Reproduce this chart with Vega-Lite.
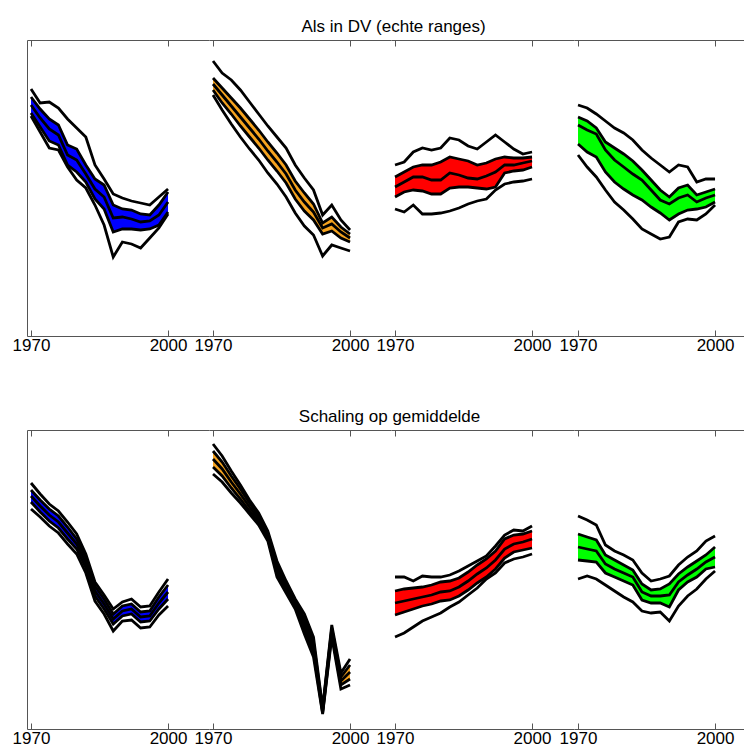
{
  "$schema": "https://vega.github.io/schema/vega-lite/v6.json",
  "background": "white",
  "padding": {"left": 12, "top": 17, "right": 0, "bottom": 0},
  "config": {
    "view": {"stroke": null},
    "font": "Liberation Sans",
    "axis": {"grid": false, "domainColor": "#555", "tickColor": "#555", "domainWidth": 1, "tickWidth": 1, "labelColor": "black", "labelFont": "Liberation Sans", "labelFontSize": 17, "title": null},
    "title": {"font": "Liberation Sans", "fontSize": 17, "fontWeight": "normal", "color": "black", "anchor": "middle", "offset": 4}
  },
  "datasets": {
    "top": [
      {"s":0,"year":1970,"U":247,"A":239,"M":231,"B":223,"L":220},
      {"s":0,"year":1972,"U":233,"A":227,"M":218,"B":209,"L":204},
      {"s":0,"year":1974,"U":234,"A":217,"M":207,"B":195,"L":188},
      {"s":0,"year":1976,"U":228,"A":211,"M":201,"B":191,"L":186},
      {"s":0,"year":1978,"U":217,"A":191,"M":181,"B":171,"L":169},
      {"s":0,"year":1980,"U":208,"A":187,"M":176,"B":164,"L":156},
      {"s":0,"year":1982,"U":199,"A":171,"M":162,"B":154,"L":148},
      {"s":0,"year":1984,"U":171,"A":157,"M":147,"B":137,"L":131},
      {"s":0,"year":1986,"U":157,"A":151,"M":139,"B":127,"L":111},
      {"s":0,"year":1988,"U":142,"A":131,"M":118,"B":104,"L":79},
      {"s":0,"year":1990,"U":138,"A":127,"M":119,"B":107,"L":94},
      {"s":0,"year":1992,"U":135,"A":126,"M":117,"B":107,"L":92},
      {"s":0,"year":1994,"U":133,"A":122,"M":114,"B":106,"L":88},
      {"s":0,"year":1996,"U":131,"A":121,"M":115,"B":107,"L":98},
      {"s":0,"year":1998,"U":139,"A":131,"M":121,"B":111,"L":108},
      {"s":0,"year":2000,"U":147,"A":144,"M":134,"B":124,"L":122},
      {"s":1,"year":1970,"U":275,"A":258,"M":252,"B":246,"L":241},
      {"s":1,"year":1972,"U":263,"A":248,"M":241,"B":233,"L":226},
      {"s":1,"year":1974,"U":256,"A":238,"M":230,"B":222,"L":212},
      {"s":1,"year":1976,"U":246,"A":228,"M":219,"B":210,"L":199},
      {"s":1,"year":1978,"U":234,"A":217,"M":208,"B":199,"L":187},
      {"s":1,"year":1980,"U":222,"A":206,"M":197,"B":188,"L":176},
      {"s":1,"year":1982,"U":210,"A":194,"M":185,"B":176,"L":163},
      {"s":1,"year":1984,"U":199,"A":183,"M":174,"B":165,"L":152},
      {"s":1,"year":1986,"U":188,"A":171,"M":162,"B":153,"L":139},
      {"s":1,"year":1988,"U":171,"A":155,"M":146,"B":137,"L":123},
      {"s":1,"year":1990,"U":158,"A":143,"M":134,"B":125,"L":110},
      {"s":1,"year":1992,"U":146,"A":132,"M":124,"B":116,"L":101},
      {"s":1,"year":1994,"U":121,"A":113,"M":108,"B":102,"L":80},
      {"s":1,"year":1996,"U":131,"A":119,"M":112,"B":105,"L":91},
      {"s":1,"year":1998,"U":116,"A":109,"M":104,"B":98,"L":88},
      {"s":1,"year":2000,"U":106,"A":102,"M":98,"B":94,"L":85},
      {"s":2,"year":1970,"U":171,"A":159,"M":149,"B":139,"L":127},
      {"s":2,"year":1972,"U":174,"A":164,"M":154,"B":144,"L":124},
      {"s":2,"year":1974,"U":184,"A":169,"M":159,"B":146,"L":131},
      {"s":2,"year":1976,"U":188,"A":171,"M":159,"B":145,"L":122},
      {"s":2,"year":1978,"U":186,"A":171,"M":156,"B":142,"L":122},
      {"s":2,"year":1980,"U":188,"A":174,"M":156,"B":142,"L":123},
      {"s":2,"year":1982,"U":198,"A":179,"M":163,"B":148,"L":125},
      {"s":2,"year":1984,"U":196,"A":177,"M":161,"B":149,"L":128},
      {"s":2,"year":1986,"U":190,"A":175,"M":158,"B":149,"L":132},
      {"s":2,"year":1988,"U":187,"A":171,"M":157,"B":148,"L":135},
      {"s":2,"year":1990,"U":194,"A":173,"M":160,"B":147,"L":137},
      {"s":2,"year":1992,"U":201,"A":177,"M":164,"B":149,"L":146},
      {"s":2,"year":1994,"U":194,"A":179,"M":171,"B":163,"L":152},
      {"s":2,"year":1996,"U":187,"A":178,"M":171,"B":165,"L":154},
      {"s":2,"year":1998,"U":182,"A":178,"M":173,"B":166,"L":155},
      {"s":2,"year":2000,"U":184,"A":179,"M":175,"B":169,"L":157},
      {"s":3,"year":1970,"U":231,"A":219,"M":211,"B":192,"L":181},
      {"s":3,"year":1972,"U":228,"A":215,"M":206,"B":184,"L":169},
      {"s":3,"year":1974,"U":222,"A":208,"M":202,"B":179,"L":159},
      {"s":3,"year":1976,"U":215,"A":194,"M":186,"B":164,"L":146},
      {"s":3,"year":1978,"U":208,"A":188,"M":176,"B":154,"L":134},
      {"s":3,"year":1980,"U":203,"A":182,"M":169,"B":147,"L":126},
      {"s":3,"year":1982,"U":196,"A":175,"M":162,"B":141,"L":117},
      {"s":3,"year":1984,"U":186,"A":166,"M":156,"B":136,"L":107},
      {"s":3,"year":1986,"U":178,"A":156,"M":146,"B":129,"L":102},
      {"s":3,"year":1988,"U":171,"A":146,"M":136,"B":123,"L":97},
      {"s":3,"year":1990,"U":164,"A":139,"M":132,"B":116,"L":99},
      {"s":3,"year":1992,"U":171,"A":148,"M":138,"B":122,"L":114},
      {"s":3,"year":1994,"U":169,"A":151,"M":141,"B":126,"L":117},
      {"s":3,"year":1996,"U":154,"A":141,"M":134,"B":127,"L":116},
      {"s":3,"year":1998,"U":157,"A":144,"M":138,"B":129,"L":122},
      {"s":3,"year":2000,"U":157,"A":147,"M":141,"B":134,"L":131}
    ],
    "bot": [
      {"s":0,"year":1970,"U":246,"A":239,"M":233,"B":227,"L":220},
      {"s":0,"year":1972,"U":235,"A":229,"M":223,"B":217,"L":212},
      {"s":0,"year":1974,"U":225,"A":220,"M":214,"B":208,"L":203},
      {"s":0,"year":1976,"U":218,"A":213,"M":207,"B":201,"L":196},
      {"s":0,"year":1978,"U":207,"A":202,"M":196,"B":190,"L":185},
      {"s":0,"year":1980,"U":195,"A":190,"M":185,"B":180,"L":175},
      {"s":0,"year":1982,"U":175,"A":171,"M":166,"B":161,"L":156},
      {"s":0,"year":1984,"U":147,"A":143,"M":138,"B":133,"L":128},
      {"s":0,"year":1986,"U":134,"A":130,"M":125,"B":120,"L":115},
      {"s":0,"year":1988,"U":120,"A":115,"M":110,"B":105,"L":98},
      {"s":0,"year":1990,"U":127,"A":123,"M":118,"B":113,"L":108},
      {"s":0,"year":1992,"U":130,"A":125,"M":120,"B":115,"L":109},
      {"s":0,"year":1994,"U":122,"A":117,"M":112,"B":107,"L":101},
      {"s":0,"year":1996,"U":123,"A":118,"M":113,"B":108,"L":102},
      {"s":0,"year":1998,"U":137,"A":132,"M":126,"B":120,"L":114},
      {"s":0,"year":2000,"U":150,"A":144,"M":137,"B":130,"L":123},
      {"s":1,"year":1970,"U":285,"A":278,"M":270,"B":262,"L":255},
      {"s":1,"year":1972,"U":273,"A":267,"M":260,"B":253,"L":247},
      {"s":1,"year":1974,"U":258,"A":253,"M":247,"B":241,"L":236},
      {"s":1,"year":1976,"U":244,"A":240,"M":235,"B":230,"L":226},
      {"s":1,"year":1978,"U":229,"A":226,"M":222,"B":218,"L":215},
      {"s":1,"year":1980,"U":216,"A":213,"M":210,"B":207,"L":204},
      {"s":1,"year":1982,"U":198,"A":196,"M":193,"B":190,"L":188},
      {"s":1,"year":1984,"U":168,"A":164,"M":160,"B":156,"L":152},
      {"s":1,"year":1986,"U":148,"A":145,"M":142,"B":139,"L":136},
      {"s":1,"year":1988,"U":130,"A":128,"M":125,"B":122,"L":120},
      {"s":1,"year":1990,"U":115,"A":110,"M":105,"B":100,"L":95},
      {"s":1,"year":1992,"U":92,"A":87,"M":82,"B":77,"L":72},
      {"s":1,"year":1994,"U":21,"A":20,"M":18,"B":16,"L":15},
      {"s":1,"year":1996,"U":104,"A":101,"M":98,"B":95,"L":92},
      {"s":1,"year":1998,"U":56,"A":52,"M":48,"B":44,"L":40},
      {"s":1,"year":2000,"U":70,"A":64,"M":57,"B":50,"L":44},
      {"s":2,"year":1970,"U":152,"A":138,"M":126,"B":114,"L":92},
      {"s":2,"year":1972,"U":152,"A":140,"M":128,"B":117,"L":96},
      {"s":2,"year":1974,"U":148,"A":141,"M":130,"B":120,"L":102},
      {"s":2,"year":1976,"U":153,"A":142,"M":132,"B":123,"L":108},
      {"s":2,"year":1978,"U":152,"A":144,"M":134,"B":125,"L":112},
      {"s":2,"year":1980,"U":152,"A":147,"M":137,"B":128,"L":116},
      {"s":2,"year":1982,"U":154,"A":148,"M":138,"B":129,"L":122},
      {"s":2,"year":1984,"U":158,"A":151,"M":142,"B":133,"L":127},
      {"s":2,"year":1986,"U":163,"A":157,"M":148,"B":139,"L":134},
      {"s":2,"year":1988,"U":168,"A":164,"M":155,"B":146,"L":141},
      {"s":2,"year":1990,"U":173,"A":170,"M":161,"B":152,"L":150},
      {"s":2,"year":1992,"U":183,"A":178,"M":169,"B":160,"L":156},
      {"s":2,"year":1994,"U":194,"A":190,"M":180,"B":171,"L":166},
      {"s":2,"year":1996,"U":199,"A":194,"M":185,"B":177,"L":170},
      {"s":2,"year":1998,"U":198,"A":195,"M":187,"B":179,"L":172},
      {"s":2,"year":2000,"U":203,"A":198,"M":190,"B":181,"L":175},
      {"s":3,"year":1970,"U":213,"A":195,"M":182,"B":169,"L":150},
      {"s":3,"year":1972,"U":209,"A":192,"M":180,"B":168,"L":153},
      {"s":3,"year":1974,"U":204,"A":189,"M":178,"B":167,"L":150},
      {"s":3,"year":1976,"U":184,"A":174,"M":165,"B":156,"L":144},
      {"s":3,"year":1978,"U":178,"A":169,"M":160,"B":152,"L":138},
      {"s":3,"year":1980,"U":174,"A":164,"M":156,"B":148,"L":132},
      {"s":3,"year":1982,"U":169,"A":159,"M":152,"B":144,"L":127},
      {"s":3,"year":1984,"U":156,"A":145,"M":137,"B":129,"L":118},
      {"s":3,"year":1986,"U":148,"A":139,"M":133,"B":126,"L":116},
      {"s":3,"year":1988,"U":150,"A":140,"M":133,"B":126,"L":117},
      {"s":3,"year":1990,"U":153,"A":145,"M":134,"B":122,"L":108},
      {"s":3,"year":1992,"U":164,"A":155,"M":147,"B":139,"L":123},
      {"s":3,"year":1994,"U":172,"A":162,"M":154,"B":147,"L":133},
      {"s":3,"year":1996,"U":178,"A":168,"M":160,"B":152,"L":140},
      {"s":3,"year":1998,"U":188,"A":174,"M":167,"B":160,"L":150},
      {"s":3,"year":2000,"U":193,"A":182,"M":172,"B":162,"L":158}
    ]
  },
  "vconcat": [
    {
      "title": {"text": "Als in DV (echte ranges)", "dx": 15},
      "bounds": "flush",
      "spacing": 0,
      "hconcat": [
        {"width": 182, "height": 296, "data": {"name": "top"}, "transform": [{"filter": "datum.s == 0"}],
         "layer": [
          {"mark": {"type": "area", "color": "#0000FF", "opacity": 1},
           "encoding": {"x": {"field": "year", "type": "quantitative", "scale": {"domain": [1969.12, 2008.97], "nice": false, "zero": false}, "axis": {"orient": "bottom", "values": [1970, 2000], "format": "d", "tickSize": -6, "labelPadding": 7, "labelFlush": false, "labelOverlap": false}},
            "y": {"field": "A", "type": "quantitative", "scale": {"domain": [0, 296], "nice": false, "zero": false}, "axis": {"orient": "left", "ticks": false, "labels": false}},
            "y2": {"field": "B"}}},
          {"transform": [{"fold": ["U", "A", "M", "B", "L"], "as": ["k", "v"]}],
           "mark": {"type": "line", "color": "black", "strokeWidth": 2.8},
           "encoding": {"x": {"field": "year", "type": "quantitative", "axis": {"orient": "top", "values": [1970, 2000], "labels": false, "tickSize": -6}},
            "y": {"field": "v", "type": "quantitative", "axis": null}, "detail": {"field": "k"}}}
         ],
         "resolve": {"axis": {"x": "independent", "y": "independent"}}},
        {"width": 182, "height": 296, "data": {"name": "top"}, "transform": [{"filter": "datum.s == 1"}],
         "layer": [
          {"mark": {"type": "area", "color": "#F5A31F", "opacity": 1},
           "encoding": {"x": {"field": "year", "type": "quantitative", "scale": {"domain": [1969.12, 2008.97], "nice": false, "zero": false}, "axis": {"orient": "bottom", "values": [1970, 2000], "format": "d", "tickSize": -6, "labelPadding": 7, "labelFlush": false, "labelOverlap": false}},
            "y": {"field": "A", "type": "quantitative", "scale": {"domain": [0, 296], "nice": false, "zero": false}, "axis": null},
            "y2": {"field": "B"}}},
          {"transform": [{"fold": ["U", "A", "M", "B", "L"], "as": ["k", "v"]}],
           "mark": {"type": "line", "color": "black", "strokeWidth": 2.8},
           "encoding": {"x": {"field": "year", "type": "quantitative", "axis": {"orient": "top", "values": [1970, 2000], "labels": false, "tickSize": -6}},
            "y": {"field": "v", "type": "quantitative", "axis": null}, "detail": {"field": "k"}}}
         ],
         "resolve": {"axis": {"x": "independent", "y": "independent"}}},
        {"width": 183, "height": 296, "data": {"name": "top"}, "transform": [{"filter": "datum.s == 2"}],
         "layer": [
          {"mark": {"type": "area", "color": "#FF0000", "opacity": 1},
           "encoding": {"x": {"field": "year", "type": "quantitative", "scale": {"domain": [1969.12, 2009.19], "nice": false, "zero": false}, "axis": {"orient": "bottom", "values": [1970, 2000], "format": "d", "tickSize": -6, "labelPadding": 7, "labelFlush": false, "labelOverlap": false}},
            "y": {"field": "A", "type": "quantitative", "scale": {"domain": [0, 296], "nice": false, "zero": false}, "axis": null},
            "y2": {"field": "B"}}},
          {"transform": [{"fold": ["U", "A", "M", "B", "L"], "as": ["k", "v"]}],
           "mark": {"type": "line", "color": "black", "strokeWidth": 2.8},
           "encoding": {"x": {"field": "year", "type": "quantitative", "axis": {"orient": "top", "values": [1970, 2000], "labels": false, "tickSize": -6}},
            "y": {"field": "v", "type": "quantitative", "axis": null}, "detail": {"field": "k"}}}
         ],
         "resolve": {"axis": {"x": "independent", "y": "independent"}}},
        {"width": 171, "height": 296, "data": {"name": "top"}, "transform": [{"filter": "datum.s == 3"}],
         "layer": [
          {"mark": {"type": "area", "color": "#00FF00", "opacity": 1},
           "encoding": {"x": {"field": "year", "type": "quantitative", "scale": {"domain": [1969.12, 2006.56], "nice": false, "zero": false}, "axis": {"orient": "bottom", "values": [1970, 2000], "format": "d", "tickSize": -6, "labelPadding": 7, "labelFlush": false, "labelOverlap": false}},
            "y": {"field": "A", "type": "quantitative", "scale": {"domain": [0, 296], "nice": false, "zero": false}, "axis": null},
            "y2": {"field": "B"}}},
          {"transform": [{"fold": ["U", "A", "M", "B", "L"], "as": ["k", "v"]}],
           "mark": {"type": "line", "color": "black", "strokeWidth": 2.8},
           "encoding": {"x": {"field": "year", "type": "quantitative", "axis": {"orient": "top", "values": [1970, 2000], "labels": false, "tickSize": -6}},
            "y": {"field": "v", "type": "quantitative", "axis": null}, "detail": {"field": "k"}}}
         ],
         "resolve": {"axis": {"x": "independent", "y": "independent"}}}
      ]
    },
    {
      "title": {"text": "Schaling op gemiddelde", "dx": 11},
      "bounds": "flush",
      "spacing": 0,
      "hconcat": [
        {"width": 182, "height": 299, "data": {"name": "bot"}, "transform": [{"filter": "datum.s == 0"}],
         "layer": [
          {"mark": {"type": "area", "color": "#0000FF", "opacity": 1},
           "encoding": {"x": {"field": "year", "type": "quantitative", "scale": {"domain": [1969.12, 2008.97], "nice": false, "zero": false}, "axis": {"orient": "bottom", "values": [1970, 2000], "format": "d", "tickSize": -6, "labelPadding": 7, "labelFlush": false, "labelOverlap": false}},
            "y": {"field": "A", "type": "quantitative", "scale": {"domain": [0, 299], "nice": false, "zero": false}, "axis": {"orient": "left", "ticks": false, "labels": false}},
            "y2": {"field": "B"}}},
          {"transform": [{"fold": ["U", "A", "M", "B", "L"], "as": ["k", "v"]}],
           "mark": {"type": "line", "color": "black", "strokeWidth": 2.8},
           "encoding": {"x": {"field": "year", "type": "quantitative", "axis": {"orient": "top", "values": [1970, 2000], "labels": false, "tickSize": -6}},
            "y": {"field": "v", "type": "quantitative", "axis": null}, "detail": {"field": "k"}}}
         ],
         "resolve": {"axis": {"x": "independent", "y": "independent"}}},
        {"width": 182, "height": 299, "data": {"name": "bot"}, "transform": [{"filter": "datum.s == 1"}],
         "layer": [
          {"mark": {"type": "area", "color": "#F5A31F", "opacity": 1},
           "encoding": {"x": {"field": "year", "type": "quantitative", "scale": {"domain": [1969.12, 2008.97], "nice": false, "zero": false}, "axis": {"orient": "bottom", "values": [1970, 2000], "format": "d", "tickSize": -6, "labelPadding": 7, "labelFlush": false, "labelOverlap": false}},
            "y": {"field": "A", "type": "quantitative", "scale": {"domain": [0, 299], "nice": false, "zero": false}, "axis": null},
            "y2": {"field": "B"}}},
          {"transform": [{"fold": ["U", "A", "M", "B", "L"], "as": ["k", "v"]}],
           "mark": {"type": "line", "color": "black", "strokeWidth": 2.8},
           "encoding": {"x": {"field": "year", "type": "quantitative", "axis": {"orient": "top", "values": [1970, 2000], "labels": false, "tickSize": -6}},
            "y": {"field": "v", "type": "quantitative", "axis": null}, "detail": {"field": "k"}}}
         ],
         "resolve": {"axis": {"x": "independent", "y": "independent"}}},
        {"width": 183, "height": 299, "data": {"name": "bot"}, "transform": [{"filter": "datum.s == 2"}],
         "layer": [
          {"mark": {"type": "area", "color": "#FF0000", "opacity": 1},
           "encoding": {"x": {"field": "year", "type": "quantitative", "scale": {"domain": [1969.12, 2009.19], "nice": false, "zero": false}, "axis": {"orient": "bottom", "values": [1970, 2000], "format": "d", "tickSize": -6, "labelPadding": 7, "labelFlush": false, "labelOverlap": false}},
            "y": {"field": "A", "type": "quantitative", "scale": {"domain": [0, 299], "nice": false, "zero": false}, "axis": null},
            "y2": {"field": "B"}}},
          {"transform": [{"fold": ["U", "A", "M", "B", "L"], "as": ["k", "v"]}],
           "mark": {"type": "line", "color": "black", "strokeWidth": 2.8},
           "encoding": {"x": {"field": "year", "type": "quantitative", "axis": {"orient": "top", "values": [1970, 2000], "labels": false, "tickSize": -6}},
            "y": {"field": "v", "type": "quantitative", "axis": null}, "detail": {"field": "k"}}}
         ],
         "resolve": {"axis": {"x": "independent", "y": "independent"}}},
        {"width": 171, "height": 299, "data": {"name": "bot"}, "transform": [{"filter": "datum.s == 3"}],
         "layer": [
          {"mark": {"type": "area", "color": "#00FF00", "opacity": 1},
           "encoding": {"x": {"field": "year", "type": "quantitative", "scale": {"domain": [1969.12, 2006.56], "nice": false, "zero": false}, "axis": {"orient": "bottom", "values": [1970, 2000], "format": "d", "tickSize": -6, "labelPadding": 7, "labelFlush": false, "labelOverlap": false}},
            "y": {"field": "A", "type": "quantitative", "scale": {"domain": [0, 299], "nice": false, "zero": false}, "axis": null},
            "y2": {"field": "B"}}},
          {"transform": [{"fold": ["U", "A", "M", "B", "L"], "as": ["k", "v"]}],
           "mark": {"type": "line", "color": "black", "strokeWidth": 2.8},
           "encoding": {"x": {"field": "year", "type": "quantitative", "axis": {"orient": "top", "values": [1970, 2000], "labels": false, "tickSize": -6}},
            "y": {"field": "v", "type": "quantitative", "axis": null}, "detail": {"field": "k"}}}
         ],
         "resolve": {"axis": {"x": "independent", "y": "independent"}}}
      ]
    }
  ],
  "spacing": 54
}
